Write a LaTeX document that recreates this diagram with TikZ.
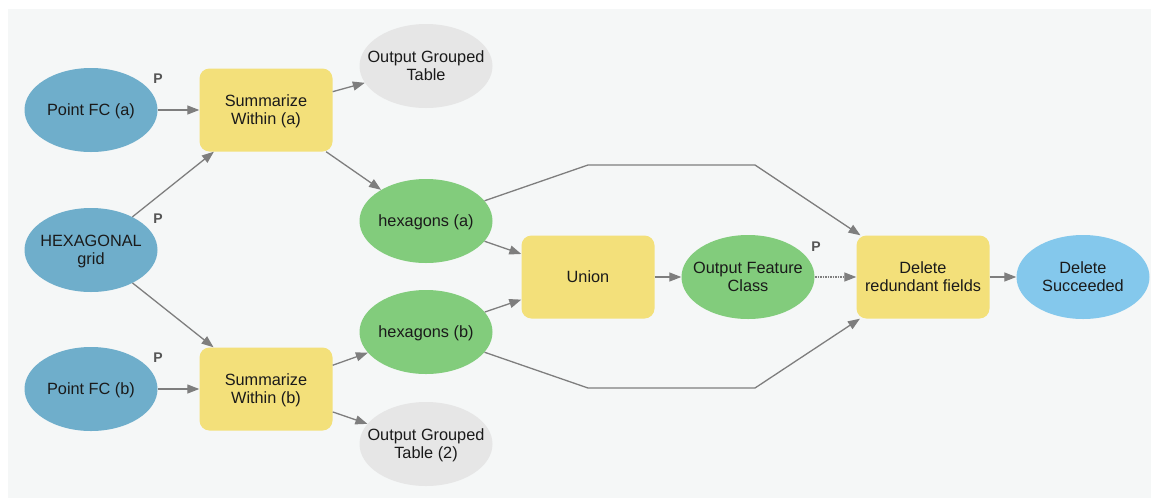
\documentclass[tikz,border=0pt]{standalone}
\usepackage{fontspec}
\setmainfont{Liberation Sans}
\usetikzlibrary{shapes.geometric,arrows.meta}
\definecolor{canvas}{HTML}{F5F7F7}
\definecolor{inputblue}{HTML}{6FAECB}
\definecolor{datagreen}{HTML}{82CC7C}
\definecolor{toolyellow}{HTML}{F3E07A}
\definecolor{outgray}{HTML}{E6E6E6}
\definecolor{doneblue}{HTML}{84C8EC}
\definecolor{linkgray}{HTML}{7E7E7E}
\definecolor{txt}{HTML}{1A1A1A}
\definecolor{ptxt}{HTML}{555555}
% zero-size label so the shape keeps its fixed size; text sits just below the centre
\newcommand{\lbl}[1]{\makebox[0pt]{\raisebox{-6.5pt}[0pt][0pt]{\begin{tabular}{@{}c@{}}#1\end{tabular}}}}
\tikzset{
  x=1pt, y=-1pt,
  every node/.style={font=\fontsize{16.3}{18}\selectfont, text=txt, align=center, inner sep=0pt},
  var/.style={ellipse, minimum width=133pt, minimum height=84pt},
  inputvar/.style={var, fill=inputblue},
  datavar/.style={var, fill=datagreen},
  outvar/.style={var, fill=outgray},
  donevar/.style={var, fill=doneblue},
  tool/.style={rectangle, rounded corners=10pt, fill=toolyellow, minimum width=133pt, minimum height=83pt},
  link/.style={draw=linkgray, line width=1.3pt, -{Triangle[length=12pt,width=9pt]}},
  plabel/.style={font=\bfseries\fontsize{14}{14}\selectfont, text=ptxt},
}
\begin{document}
\begin{tikzpicture}
\useasboundingbox (0,0) rectangle (1151,499);
\fill[white] (0,0) rectangle (1151,499);
\fill[canvas] (8,9) rectangle (1151,498);

% inputs
\node[inputvar] (pfa) at (91,110) {\lbl{Point FC (a)}};
\node[inputvar] (hex) at (91,250) {\lbl{HEXAGONAL\\grid}};
\node[inputvar] (pfb) at (91,389) {\lbl{Point FC (b)}};

% summarize tools
\node[tool] (suma) at (266,110) {\lbl{Summarize\\Within (a)}};
\node[tool] (sumb) at (266,389) {\lbl{Summarize\\Within (b)}};

% intermediate data
\node[outvar] (ogt) at (426,66) {\lbl{Output Grouped\\Table}};
\node[datavar] (hexa) at (426,221) {\lbl{hexagons (a)}};
\node[datavar] (hexb) at (426,332) {\lbl{hexagons (b)}};
\node[outvar] (ogt2) at (426,444) {\lbl{Output Grouped\\Table (2)}};

% union and cleanup
\node[tool] (union) at (588,277) {\lbl{Union}};
\node[datavar] (ofc) at (748,277) {\lbl{Output Feature\\Class}};
\node[tool] (del) at (923,277) {\lbl{Delete\\redundant fields}};
\node[donevar] (done) at (1083,277) {\lbl{Delete\\Succeeded}};

% parameter markers
\node[plabel] (p1) at (158,79) {P};
\node[plabel] (p2) at (158,219) {P};
\node[plabel] (p3) at (158,358) {P};
\node[plabel] (p4) at (816,247) {P};

% route bends
\coordinate (ta) at (588,165);
\coordinate (tb) at (755,165);
\coordinate (ba) at (588,388);
\coordinate (bb) at (755,388);

% connectors
\draw[link] (pfa) -- (suma);
\draw[link] (hex) -- (suma);
\draw[link] (hex) -- (sumb);
\draw[link] (pfb) -- (sumb);
\draw[link] (suma) -- (ogt);
\draw[link] (suma) -- (hexa);
\draw[link] (sumb) -- (hexb);
\draw[link] (sumb) -- (ogt2);
\draw[link] (hexa) -- (union);
\draw[link] (hexb) -- (union);
\draw[link] (hexa) -- (ta) -- (tb) -- (del);
\draw[link] (hexb) -- (ba) -- (bb) -- (del);
\draw[link] (union) -- (ofc);
\draw[link, dash pattern=on 2pt off 1pt on 1pt off 1pt] (ofc) -- (del);
\draw[link] (del) -- (done);
\end{tikzpicture}
\end{document}
